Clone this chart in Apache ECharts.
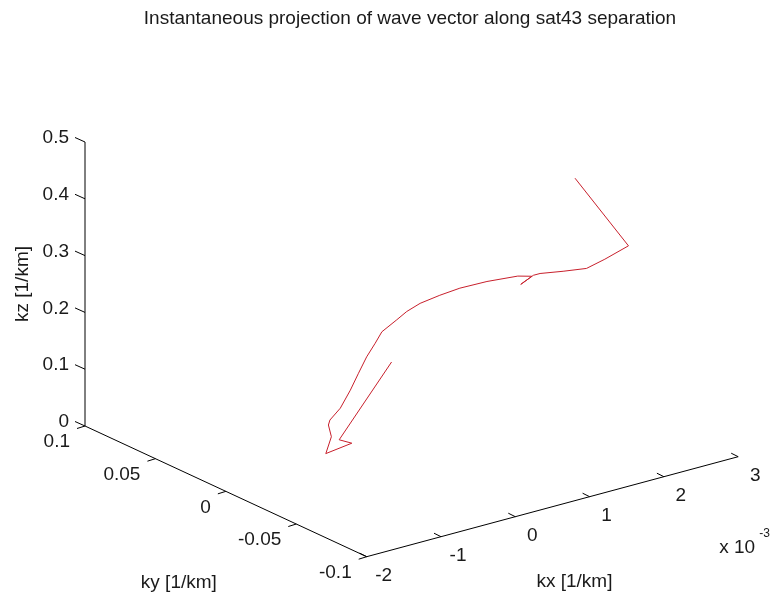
<!DOCTYPE html>
<html>
<head>
<meta charset="utf-8">
<script src="https://cdn.jsdelivr.net/npm/echarts@6/dist/echarts.min.js"></script>
<style>
html,body{margin:0;padding:0;background:#fff;}
#chart{width:771px;height:606px;}
</style>
</head>
<body>
<div id="chart"></div>
<script>
// ---------------- data ----------------
const titleText = 'Instantaneous projection of wave vector along sat43 separation';
// wave vector components [1/km]
const kxValues = [2.51e-3, 2.85e-3, 2.57e-3, 2.38e-3, 2.16e-3, 1.85e-3, 1.76e-3, 1.59e-3, 1.74e-3, 1.55e-3,
                  1.23e-3, 0.96e-3, 0.69e-3, 0.52e-3, 0.34e-3, 0.30e-3, 0.10e-3, 0.01e-3, -0.01e-3, -0.12e-3,
                  -0.23e-3, -0.27e-3, -0.41e-3, -0.43e-3, -0.39e-3, -0.56e-3, -0.21e-3, -0.38e-3, 0.42e-3];
const kyValues = [-0.010, -0.030, -0.028, -0.025, -0.020, -0.020, -0.020, -0.020, -0.020, -0.020,
                  -0.015, -0.010, -0.010, -0.005, -0.005, 0.000, 0.000, 0.000, 0.005, 0.005,
                  0.005, 0.010, 0.010, 0.010, 0.010, 0.005, 0.005, 0.005, 0.010];
const kzValues = [0.404, 0.296, 0.280, 0.267, 0.264, 0.271, 0.271, 0.261, 0.270, 0.277,
                  0.273, 0.265, 0.262, 0.248, 0.240, 0.221, 0.207, 0.190, 0.161, 0.136,
                  0.110, 0.074, 0.058, 0.050, 0.028, 0.010, 0.016, 0.028, 0.131];
// axis ticks
const kxTicks = [-2, -1, 0, 1, 2, 3];        // x 10^-3
const kyTicks = [0.1, 0.05, 0, -0.05, -0.1];
const kzTicks = [0, 0.1, 0.2, 0.3, 0.4, 0.5];
const kxTickLabels = ['-2', '-1', '0', '1', '2', '3'];
const kyTickLabels = ['0.1', '0.05', '0', '-0.05', '-0.1'];
const kzTickLabels = ['0', '0.1', '0.2', '0.3', '0.4', '0.5'];
const kxExponent = 1e-3;

// ---------------- 3D view (projection onto the page) ----------------
const W = 771, H = 606;
const range = { kxMin: -2, kxMax: 3, kyMin: -0.1, kyMax: 0.1, kzMin: 0, kzMax: 0.5 };
const view = { ox: 85, oy: 426, exX: 74.3, exY: -20, eyX: -1408.5, eyY: -653.5, ezY: -568 };
// kx given in scaled units (x 10^-3)
function proj(kxs, ky, kz) {
  const u = kxs - range.kxMin, v = ky - range.kyMax;
  return [view.ox + u * view.exX + v * view.eyX,
          view.oy + u * view.exY + v * view.eyY + kz * view.ezY];
}

const curve = kxValues.map((kx, i) => proj(kx / kxExponent, kyValues[i], kzValues[i]));

const axisZ = [proj(range.kxMin, range.kyMax, range.kzMin), proj(range.kxMin, range.kyMax, range.kzMax)];
const axisY = [proj(range.kxMin, range.kyMax, range.kzMin), proj(range.kxMin, range.kyMin, range.kzMin)];
const axisX = [proj(range.kxMin, range.kyMin, range.kzMin), proj(range.kxMax, range.kyMin, range.kzMin)];

// tick segments
const ticks = [];
kzTicks.forEach(t => { const p = proj(range.kxMin, range.kyMax, t); ticks.push([p[0], p[1], -10, -4.5]); });
kyTicks.forEach(t => { const p = proj(range.kxMin, t, range.kzMin); ticks.push([p[0], p[1], -8, 2.5]); });
kxTicks.forEach(t => { const p = proj(t, range.kyMin, range.kzMin); ticks.push([p[0], p[1], -7, -3.5]); });

// text labels
const FONT = '"Liberation Sans", Arial, Helvetica, sans-serif';
const labels = [];
kzTicks.forEach((t, i) => { const p = proj(range.kxMin, range.kyMax, t); labels.push({ x: p[0] - 16, y: p[1] - 4, text: kzTickLabels[i], align: 'right', size: 19 }); });
kyTicks.forEach((t, i) => { const p = proj(range.kxMin, t, range.kzMin); labels.push({ x: p[0] - 15, y: p[1] + 16, text: kyTickLabels[i], align: 'right', size: 19 }); });
kxTicks.forEach((t, i) => { const p = proj(t, range.kyMin, range.kzMin); labels.push({ x: p[0] + 17, y: p[1] + 19, text: kxTickLabels[i], align: 'center', size: 19 }); });
const zMid = proj(range.kxMin, range.kyMax, (range.kzMin + range.kzMax) / 2);
const yMid = proj(range.kxMin, (range.kyMin + range.kyMax) / 2, range.kzMin);
const xMid = proj((range.kxMin + range.kxMax) / 2, range.kyMin, range.kzMin);
const xEnd = proj(range.kxMax, range.kyMin, range.kzMin);
labels.push({ x: zMid[0] - 62, y: zMid[1], text: 'kz [1/km]', align: 'center', size: 19, rot: Math.PI / 2 });
labels.push({ x: yMid[0] - 47, y: yMid[1] + 91, text: 'ky [1/km]', align: 'center', size: 19 });
labels.push({ x: xMid[0] + 22, y: xMid[1] + 75, text: 'kx [1/km]', align: 'center', size: 19 });
labels.push({ x: xEnd[0] - 19, y: xEnd[1] + 91, text: 'x 10', align: 'left', size: 19 });
labels.push({ x: xEnd[0] + 21, y: xEnd[1] + 77, text: '-3', align: 'left', size: 12 });

// ---------------- chart ----------------
const chart = echarts.init(document.getElementById('chart'), null, { renderer: 'canvas' });
const lineAxis = (pts) => ({
  type: 'line', data: pts, symbol: 'none', silent: true, clip: false,
  lineStyle: { color: '#000', width: 1 }, z: 2
});
chart.setOption({
  animation: false,
  backgroundColor: '#fff',
  title: {
    text: titleText, left: 410, top: 9, textAlign: 'center', padding: 0,
    textStyle: { fontFamily: FONT, fontSize: 19, fontWeight: 'normal', color: '#1a1a1a' }
  },
  grid: { left: 0, right: 0, top: 0, bottom: 0 },
  xAxis: { type: 'value', min: 0, max: W, show: false },
  yAxis: { type: 'value', min: 0, max: H, inverse: true, show: false },
  series: [
    lineAxis(axisZ), lineAxis(axisY), lineAxis(axisX),
    {
      type: 'custom', clip: false, silent: true, data: ticks,
      renderItem: (params, api) => {
        const p = api.coord([api.value(0), api.value(1)]);
        return { type: 'line', shape: { x1: p[0], y1: p[1], x2: p[0] + api.value(2), y2: p[1] + api.value(3) },
                 style: { stroke: '#000', lineWidth: 1 } };
      }
    },
    {
      type: 'custom', clip: false, silent: true, data: labels.map(l => [l.x, l.y]),
      renderItem: (params, api) => {
        const l = labels[params.dataIndex];
        const p = api.coord([api.value(0), api.value(1)]);
        return { type: 'text', x: p[0], y: p[1], rotation: l.rot || 0,
                 style: { text: l.text, fill: '#1a1a1a', fontSize: l.size, fontFamily: FONT,
                          align: l.align, verticalAlign: 'middle' } };
      }
    },
    {
      type: 'line', data: curve, symbol: 'none', silent: true, clip: false,
      lineStyle: { color: '#c8202c', width: 1 }, z: 3
    }
  ]
});
</script>
</body>
</html>
